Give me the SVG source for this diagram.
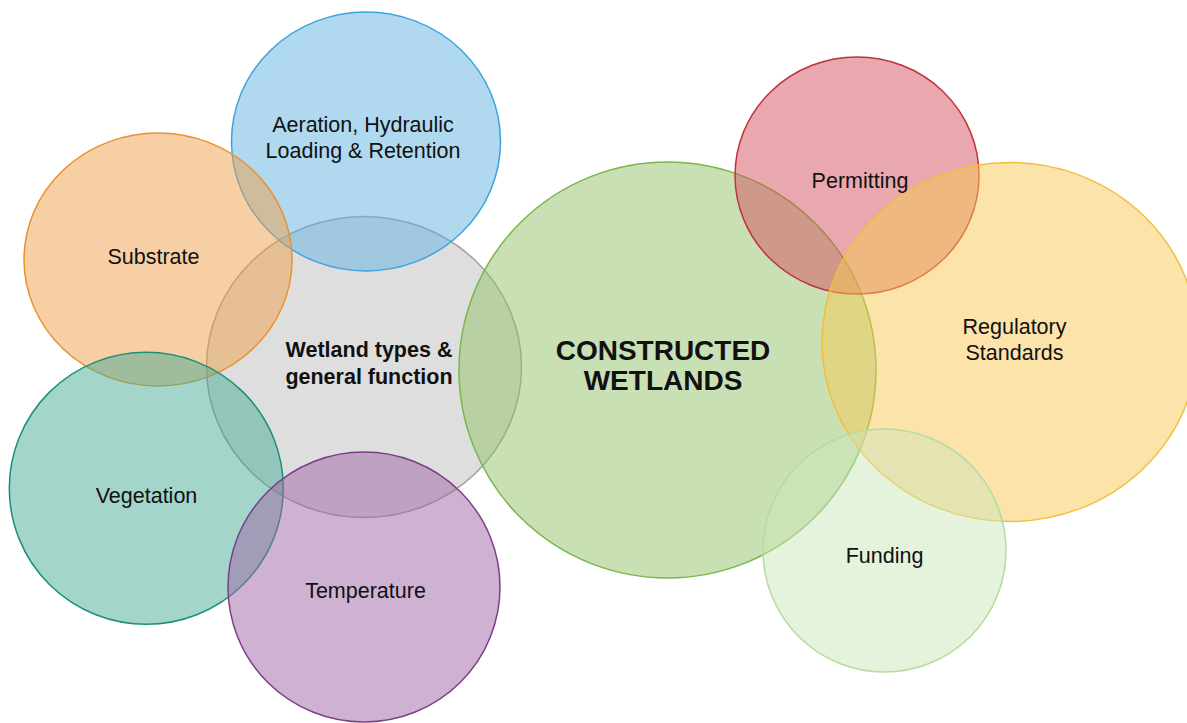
<svg xmlns="http://www.w3.org/2000/svg" width="1187" height="723" viewBox="0 0 1187 723">
<style>
.c{stroke-width:1.5;fill-opacity:0.5}
.t{font-family:"Liberation Sans",Arial,sans-serif;font-size:21.5px;fill:#111;text-anchor:middle}
.b{font-weight:bold}
</style>
<rect width="1187" height="723" fill="#ffffff"/>
<g id="wetland-types">
<ellipse class="c" cx="364" cy="367" rx="157.5" ry="150.5" fill="#bdbdbd" stroke="#a0a0a0"/>
<text class="t b" x="369" y="357">Wetland types &amp;</text>
<text class="t b" x="369" y="383.5">general function</text>
</g>
<g id="aeration">
<ellipse class="c" cx="366" cy="141.5" rx="134.5" ry="129.5" fill="#61b3e1" stroke="#3ea3dc"/>
<text class="t" x="363" y="132">Aeration, Hydraulic</text>
<text class="t" x="363" y="158">Loading &amp; Retention</text>
</g>
<g id="substrate">
<ellipse class="c" cx="158" cy="259.5" rx="134" ry="126.5" fill="#ed9f49" stroke="#e8922e"/>
<text class="t" x="153.5" y="263.5">Substrate</text>
</g>
<g id="vegetation">
<ellipse class="c" cx="146.3" cy="488.3" rx="137" ry="136" fill="#47ab95" stroke="#1a9079"/>
<text class="t" x="146.5" y="502.5">Vegetation</text>
</g>
<g id="temperature">
<ellipse class="c" cx="364" cy="587" rx="136" ry="135" fill="#9f65a5" stroke="#7b3f86"/>
<text class="t" x="365.5" y="597.5">Temperature</text>
</g>
<g id="constructed-wetlands">
<ellipse class="c" cx="667.5" cy="370" rx="208.5" ry="208" fill="#93c169" stroke="#7ab648"/>
<text class="t b" x="663" y="359.5" style="font-size:28px">CONSTRUCTED</text>
<text class="t b" x="663" y="390" style="font-size:28px">WETLANDS</text>
</g>
<g id="permitting">
<ellipse class="c" cx="857" cy="175.5" rx="122" ry="118.5" fill="#d3515b" stroke="#c0323f"/>
<text class="t" x="860" y="187.5">Permitting</text>
</g>
<g id="regulatory-standards">
<ellipse class="c" cx="1010" cy="342" rx="188" ry="179.5" fill="#f7c755" stroke="#f2bf3a"/>
<text class="t" x="1014.5" y="333.5">Regulatory</text>
<text class="t" x="1014.5" y="360">Standards</text>
</g>
<g id="funding">
<ellipse class="c" cx="884.5" cy="550.5" rx="121.5" ry="121.5" fill="#cbe5b9" stroke="#b4dca0"/>
<text class="t" x="884.5" y="562.5">Funding</text>
</g>
<g id="connectors"></g>
</svg>
